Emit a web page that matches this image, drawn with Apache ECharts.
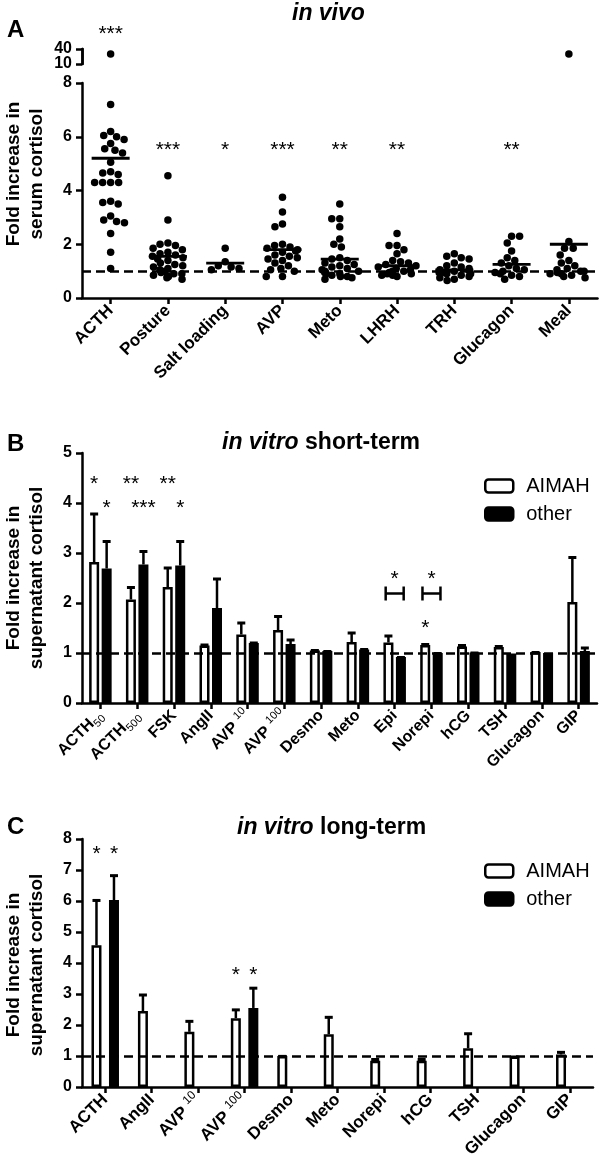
<!DOCTYPE html>
<html><head><meta charset="utf-8">
<script src="https://cdn.jsdelivr.net/npm/echarts@6/dist/echarts.min.js"></script>
<style>html,body{margin:0;padding:0;background:#fff}#c{width:600px;height:1172px}</style>
</head><body><div id="c"></div>
<script>
const FONT = "'Liberation Sans', Arial, Helvetica, sans-serif";

// ---------- Panel A: in vivo ----------
const vivoCats = ['ACTH','Posture','Salt loading','AVP','Meto','LHRH','TRH','Glucagon','Meal'];
const vivoACTH = [7.2, 6.2, 6.05, 6.0, 5.9, 5.75, 5.55, 5.5, 5.4, 5.05, 4.7, 4.65, 4.6, 4.3, 4.3, 4.3, 4.3, 3.6, 3.55, 3.5, 3.05, 2.9, 2.85, 2.8, 2.4, 1.7, 1.1];
const vivoPosture = [4.55, 2.9, 2.05, 2.0, 1.95, 1.85, 1.8, 1.7, 1.65, 1.6, 1.55, 1.5, 1.45, 1.4, 1.3, 1.25, 1.2, 1.15, 1.1, 1.05, 1.0, 0.95, 0.9, 0.9, 0.85, 0.8, 0.8, 0.75, 0.7];
const vivoSalt = [1.85, 1.35, 1.2, 1.15, 1.1, 1.05];
const vivoAVP = [3.75, 3.2, 2.75, 2.65, 2.0, 1.95, 1.9, 1.85, 1.8, 1.75, 1.7, 1.6, 1.55, 1.5, 1.45, 1.4, 1.3, 1.2, 1.1, 1.05, 1.0, 0.8, 0.8];
const vivoMeto = [3.5, 2.95, 2.95, 2.65, 2.2, 2.0, 1.9, 1.5, 1.45, 1.4, 1.3, 1.25, 1.2, 1.15, 1.1, 1.05, 1.0, 1.0, 0.95, 0.9, 0.9, 0.85, 0.8, 0.8, 0.75, 0.7];
const vivoLHRH = [2.4, 1.95, 1.95, 1.8, 1.65, 1.4, 1.35, 1.3, 1.25, 1.2, 1.15, 1.1, 1.05, 1.0, 1.0, 0.95, 0.9, 0.9, 0.85, 0.85, 0.8];
const vivoTRH = [1.65, 1.55, 1.5, 1.45, 1.3, 1.2, 1.15, 1.1, 1.05, 1.0, 1.0, 0.95, 0.95, 0.9, 0.9, 0.85, 0.8, 0.75, 0.7, 0.65];
const vivoGlucagon = [2.3, 2.3, 2.05, 1.75, 1.5, 1.4, 1.3, 1.2, 1.1, 1.05, 1.0, 0.95, 0.9, 0.85, 0.8, 0.7];
const vivoMeal = [2.1, 1.85, 1.85, 1.6, 1.4, 1.3, 1.2, 1.1, 1.05, 1.0, 1.0, 0.95, 0.9, 0.9, 0.85, 0.8, 0.75];
const vivoHigh = [['ACTH', 30], ['Meal', 30]];           // values above the axis break
const vivoMeans = [5.2, 1.55, 1.3, 1.8, 1.45, 1.2, 1.05, 1.25, 2.0];
const vivoStars = ['***','***','*','***','**','**','','**',''];
const vivoStarY = [10, 5.7, 5.7, 5.7, 5.7, 5.7, 5.7, 5.7, 5.7];
const vivoLowTicks = [0, 8, 2];   // min, max, interval
const vivoHighTicks = [10, 40, 30];

// ---------- Panel B: in vitro short-term ----------
const stCats = ['ACTH50','ACTH500','FSK','AngII','AVP10','AVP100','Desmo','Meto','Epi','Norepi','hCG','TSH','Glucagon','GIP'];
const stAIMAH    = [2.82, 2.07, 2.32, 1.15, 1.37, 1.46, 1.05, 1.22, 1.21, 1.16, 1.13, 1.12, 1.02, 2.02];
const stAIMAHErr = [3.80, 2.33, 2.72, 1.18, 1.62, 1.75, 1.07, 1.42, 1.36, 1.19, 1.17, 1.15, 1.03, 2.93];
const stOther    = [2.69, 2.77, 2.75, 1.90, 1.20, 1.18, 1.04, 1.07, 0.92, 1.00, 1.01, 0.99, 1.00, 1.04];
const stOtherErr = [3.25, 3.05, 3.25, 2.50, 1.22, 1.28, 1.05, 1.09, 0.93, 1.01, 1.02, 0.99, 1.00, 1.12];
const stStarCat  = [0, 0, 1, 1, 2, 2, 8, 9, 9];
const stStarSide = [-1, 1, -1, 1, -1, 1, 0, 0, -1];
const stStarY    = [4.47, 4.0, 4.47, 4.0, 4.47, 4.0, 2.57, 2.57, 1.59];
const stStarText = ['*', '*', '**', '***', '**', '*', '*', '*', '*'];
const stBracketCat = [8, 9];
const stBracketY = [2.19, 2.19];

// ---------- Panel C: in vitro long-term ----------
const ltCats = ['ACTH','AngII','AVP10','AVP100','Desmo','Meto','Norepi','hCG','TSH','Glucagon','GIP'];
const ltAIMAH    = [4.57, 2.45, 1.78, 2.22, 1.0, 1.70, 0.85, 0.85, 1.25, 0.98, 1.05];
const ltAIMAHErr = [6.05, 3.00, 2.15, 2.52, 1.02, 2.28, 0.92, 0.92, 1.75, 1.00, 1.15];
const ltOther    = [6.03, null, null, 2.55, null, null, null, null, null, null, null];
const ltOtherErr = [6.85, null, null, 3.22, null, null, null, null, null, null, null];
const ltStarCat  = [0, 0, 3, 3];
const ltStarSide = [-1, 1, -1, 1];
const ltStarY    = [7.66, 7.66, 3.78, 3.78];
const ltStarText = ['*', '*', '*', '*'];

// ---------- helpers ----------
const AX_W = 2.5;
const axisLineStyle = {show: true, lineStyle: {color: '#000', width: AX_W}};
const tickStyle = {show: true, length: 6, lineStyle: {color: '#000', width: AX_W}};
function yAxisDef(grid, lim, onlyLabel) {
  const lab = {color: '#000', fontFamily: FONT, fontWeight: 'bold', fontSize: 16, margin: 10,
      showMinLabel: true, showMaxLabel: true, hideOverlap: false};
  if (onlyLabel != null) lab.formatter = (v) => (v === onlyLabel ? String(v) : '');
  return {type: 'value', gridIndex: grid, position: 'left', offset: 0,
    min: lim[0], max: lim[1], interval: lim[2],
    axisLine: axisLineStyle, axisTick: tickStyle, splitLine: {show: false}, axisLabel: lab};
}
function labelFmt(v) {
  let m = v.match(/^(ACTH)(\d+)$/);
  if (m) return '{b|' + m[1] + '}{sub|' + m[2] + '}';
  m = v.match(/^(AVP)(\d+)$/);
  if (m) return '{b|' + m[1] + ' }{sup|' + m[2] + '}';
  return '{b|' + v + '}';
}
function xAxisDef(grid, cats, fs, extra) {
  return Object.assign({type: 'category', gridIndex: grid, data: cats, boundaryGap: true,
    axisLine: axisLineStyle, axisTick: Object.assign({alignWithLabel: true}, tickStyle),
    splitLine: {show: false},
    axisLabel: {interval: 0, rotate: 45, margin: 10, color: '#000', formatter: labelFmt,
      rich: {
        b: {fontFamily: FONT, fontWeight: 'bold', fontSize: fs, color: '#000', lineHeight: fs + 6},
        sub: {fontFamily: FONT, fontSize: fs - 5, color: '#000', verticalAlign: 'bottom', lineHeight: fs + 6},
        sup: {fontFamily: FONT, fontSize: fs - 5, color: '#000', verticalAlign: 'top', lineHeight: fs + 6}
      }}}, extra || {});
}
function hiddenX(grid, cats) {
  return {type: 'category', gridIndex: grid, data: cats, show: false, boundaryGap: true};
}
function dashSeries(xi, yi) {
  return {type: 'line', xAxisIndex: xi, yAxisIndex: yi, data: [], z: 1, silent: true,
    markLine: {silent: true, symbol: ['none', 'none'], label: {show: false},
      lineStyle: {type: [9, 5], width: 2.5, color: '#000'}, data: [{yAxis: 1}]}};
}
function errSeries(xi, yi, vals, errs, offset) {
  return {type: 'custom', xAxisIndex: xi, yAxisIndex: yi, z: 4, silent: true,
    data: vals.map((v, i) => [i, v == null ? NaN : v, errs[i] == null ? NaN : errs[i]]),
    encode: {x: 0, y: [1, 2]},
    renderItem: function (params, api) {
      const v = api.value(1), e = api.value(2);
      if (isNaN(v) || isNaN(e) || e <= v + 0.005) return null;
      const t = api.coord([api.value(0), e]);
      const b = api.coord([api.value(0), v]);
      const x = t[0] + offset;
      return {type: 'group', children: [
        {type: 'line', shape: {x1: x, y1: b[1], x2: x, y2: t[1] + 1}, style: {stroke: '#000', lineWidth: 2.5}},
        {type: 'line', shape: {x1: x - 4, y1: t[1] + 1, x2: x + 4, y2: t[1] + 1}, style: {stroke: '#000', lineWidth: 3}}
      ]};
    }};
}
function starSeries(xi, yi, cats, sides, ys, texts, offset) {
  return {type: 'custom', xAxisIndex: xi, yAxisIndex: yi, z: 5, silent: true,
    data: cats.map((c, i) => [c, ys[i], sides[i]]),
    encode: {x: 0, y: 1},
    renderItem: function (params, api) {
      const t = texts[params.dataIndex];
      if (!t) return null;
      const p = api.coord([api.value(0), api.value(1)]);
      return {type: 'text', x: p[0] + api.value(2) * offset, y: p[1] + 5,
        style: {text: t, font: '21px ' + FONT, textAlign: 'center', textVerticalAlign: 'middle', fill: '#000'}};
    }};
}
function bracketSeries(xi, yi, cats, ys) {
  return {type: 'custom', xAxisIndex: xi, yAxisIndex: yi, z: 5, silent: true,
    data: cats.map((c, i) => [c, ys[i]]), encode: {x: 0, y: 1},
    renderItem: function (params, api) {
      const p = api.coord([api.value(0), api.value(1)]);
      const x1 = p[0] - 9, x2 = p[0] + 9, y = p[1];
      const st = {stroke: '#000', lineWidth: 2.5};
      return {type: 'group', children: [
        {type: 'line', shape: {x1: x1, y1: y, x2: x2, y2: y}, style: st},
        {type: 'line', shape: {x1: x1, y1: y - 7, x2: x1, y2: y + 7}, style: st},
        {type: 'line', shape: {x1: x2, y1: y - 7, x2: x2, y2: y + 7}, style: st}
      ]};
    }};
}
const whiteBar = {color: '#fff', borderColor: '#000', borderWidth: 2.5, opacity: 1};
const blackBar = {color: '#000', borderColor: '#000', borderWidth: 2.5, opacity: 1};

// scatter points for panel A
const vivoGroups = [vivoACTH, vivoPosture, vivoSalt, vivoAVP, vivoMeto, vivoLHRH, vivoTRH, vivoGlucagon, vivoMeal];
const vivoPoints = [];
vivoGroups.forEach((g, i) => g.forEach(v => vivoPoints.push([vivoCats[i], v])));

const titleText = () => ({fontFamily: FONT, fontWeight: 'bold', fontSize: 23, color: '#000',
  rich: {i: {fontFamily: FONT, fontWeight: 'bold', fontStyle: 'italic', fontSize: 23, color: '#000'},
         n: {fontFamily: FONT, fontWeight: 'bold', fontSize: 23, color: '#000'}}});

const legendDef = (top) => ({
  orient: 'vertical', left: 479, top: top, itemWidth: 28, itemHeight: 13, itemGap: 8,
  icon: 'roundRect', selectedMode: false,
  textStyle: {fontFamily: FONT, fontSize: 20, color: '#000', padding: [0, 0, 0, 8]},
  data: [{name: 'AIMAH', itemStyle: whiteBar}, {name: 'other', itemStyle: blackBar}]
});

const dot = {color: '#000', opacity: 1};

const option = {
  animation: false,
  backgroundColor: '#fff',
  title: [
    {text: 'A', left: 2, top: 13, textStyle: {fontFamily: FONT, fontWeight: 'bold', fontSize: 24, color: '#000'}},
    {text: '{i|in vivo}', left: 287, top: -3, textStyle: titleText()},
    {text: 'B', left: 2, top: 427, textStyle: {fontFamily: FONT, fontWeight: 'bold', fontSize: 24, color: '#000'}},
    {text: '{i|in vitro} {n|short-term}', left: 217, top: 426, textStyle: titleText()},
    {text: 'C', left: 2, top: 810, textStyle: {fontFamily: FONT, fontWeight: 'bold', fontSize: 24, color: '#000'}},
    {text: '{i|in vitro} {n|long-term}', left: 232, top: 811, textStyle: titleText()}
  ],
  legend: [legendDef(471), legendDef(856)],
  graphic: [
    {type: 'text', x: 25, y: 174, rotation: Math.PI / 2, silent: true,
      style: {text: 'Fold increase in\nserum cortisol', font: 'bold 19px ' + FONT, textAlign: 'center', textVerticalAlign: 'middle', lineHeight: 23, fill: '#000'}},
    {type: 'text', x: 25, y: 578, rotation: Math.PI / 2, silent: true,
      style: {text: 'Fold increase in\nsupernatant cortisol', font: 'bold 19px ' + FONT, textAlign: 'center', textVerticalAlign: 'middle', lineHeight: 23, fill: '#000'}},
    {type: 'text', x: 25, y: 965, rotation: Math.PI / 2, silent: true,
      style: {text: 'Fold increase in\nsupernatant cortisol', font: 'bold 19px ' + FONT, textAlign: 'center', textVerticalAlign: 'middle', lineHeight: 23, fill: '#000'}}
  ],
  grid: [
    {left: 82, top: 83, width: 515.5, height: 215},
    {left: 82, top: 49, width: 515.5, height: 15},
    {left: 82, top: 453, width: 515, height: 250},
    {left: 82, top: 839, width: 511, height: 248}
  ],
  xAxis: [
    xAxisDef(0, vivoCats, 17, {jitter: 38, jitterOverlap: false, jitterMargin: 0.5}),
    hiddenX(0, vivoCats),
    hiddenX(1, vivoCats),
    xAxisDef(2, stCats, 16),
    xAxisDef(3, ltCats, 17)
  ],
  yAxis: [
    yAxisDef(0, vivoLowTicks),
    yAxisDef(1, vivoHighTicks, vivoHighTicks[0]),
    yAxisDef(2, [0, 5, 1]),
    yAxisDef(3, [0, 8, 1]),
    yAxisDef(1, vivoHighTicks, vivoHighTicks[1])
  ],
  series: [
    // Panel A
    dashSeries(1, 0),
    {type: 'scatter', xAxisIndex: 0, yAxisIndex: 0, data: vivoPoints, symbolSize: 7.5,
      itemStyle: dot, silent: true, z: 3},
    {type: 'scatter', xAxisIndex: 2, yAxisIndex: 1, data: vivoHigh, symbolSize: 7.5,
      itemStyle: dot, silent: true, z: 3},
    {type: 'scatter', xAxisIndex: 1, yAxisIndex: 0, data: vivoMeans.map((m, i) => [i, m]),
      symbol: 'rect', symbolSize: [38, 2.8], itemStyle: dot, silent: true, z: 4},
    starSeries(1, 0, vivoCats.map((c, i) => i), vivoCats.map(() => 0), vivoStarY, vivoStars, 0),
    // Panel B
    dashSeries(3, 2),
    {type: 'bar', name: 'AIMAH', xAxisIndex: 3, yAxisIndex: 2, data: stAIMAH, barWidth: 10, barGap: '25%',
      itemStyle: whiteBar, silent: true, z: 2},
    {type: 'bar', name: 'other', xAxisIndex: 3, yAxisIndex: 2, data: stOther, barWidth: 10, barGap: '25%',
      itemStyle: blackBar, silent: true, z: 2},
    errSeries(3, 2, stAIMAH, stAIMAHErr, -6.25),
    errSeries(3, 2, stOther, stOtherErr, 6.25),
    starSeries(3, 2, stStarCat, stStarSide, stStarY, stStarText, 6.25),
    bracketSeries(3, 2, stBracketCat, stBracketY),
    // Panel C
    dashSeries(4, 3),
    {type: 'bar', name: 'AIMAH', xAxisIndex: 4, yAxisIndex: 3, data: ltAIMAH, barWidth: 10, barGap: '75%',
      itemStyle: whiteBar, silent: true, z: 2},
    {type: 'bar', name: 'other', xAxisIndex: 4, yAxisIndex: 3, data: ltOther, barWidth: 10, barGap: '75%',
      itemStyle: blackBar, silent: true, z: 2},
    errSeries(4, 3, ltAIMAH, ltAIMAHErr, -8.75),
    errSeries(4, 3, ltOther, ltOtherErr, 8.75),
    starSeries(4, 3, ltStarCat, ltStarSide, ltStarY, ltStarText, 8.75)
  ]
};

const chart = echarts.init(document.getElementById('c'), null, {renderer: 'canvas'});
chart.setOption(option);
</script>
</body></html>
